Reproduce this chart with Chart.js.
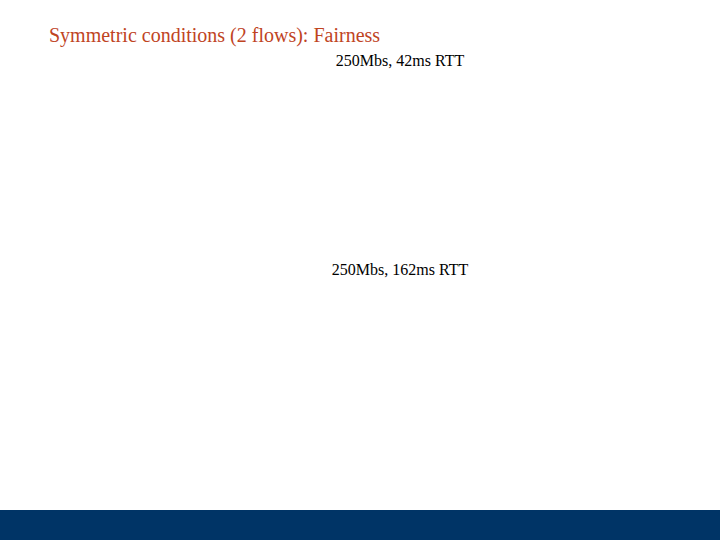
<!DOCTYPE html>
<html>
<head>
<meta charset="utf-8">
<script src="https://cdn.jsdelivr.net/npm/chart.js@4/dist/chart.umd.min.js"></script>
<style>
  html, body { margin: 0; padding: 0; width: 720px; height: 540px; overflow: hidden; background: #ffffff; }
  body { position: relative; font-family: "Liberation Serif", "DejaVu Serif", serif; }
  #title { position: absolute; left: 49px; top: 23px; font-size: 20px; line-height: 24px; color: #c0441f; white-space: nowrap; }
  .lbl { position: absolute; width: 300px; text-align: center; font-size: 16px; line-height: 18px; color: #000; white-space: nowrap; }
  #l1 { left: 250px; top: 52px; }
  #l2 { left: 250px; top: 261px; }
  .panel { position: absolute; left: 60px; width: 600px; }
  #p1 { top: 74px; height: 183px; }
  #p2 { top: 282px; height: 218px; }
  #footer { position: absolute; left: 0; top: 510px; width: 720px; height: 30px; background: #003466; }
</style>
</head>
<body>
<div id="title">Symmetric conditions (2 flows): Fairness</div>
<div class="lbl" id="l1"></div>
<div class="lbl" id="l2"></div>
<div class="panel" id="p1"><canvas id="c1"></canvas></div>
<div class="panel" id="p2"><canvas id="c2"></canvas></div>
<div id="footer"></div>
<script>
// The reference panels show only their captions; the plot images are blank.
const panelLabels = ["250Mbs, 42ms RTT", "250Mbs, 162ms RTT"];
const categories = [];
const flow1 = [];
const flow2 = [];

document.getElementById('l1').textContent = panelLabels[0];
document.getElementById('l2').textContent = panelLabels[1];

function makeChart(id) {
  return new Chart(document.getElementById(id), {
    type: 'line',
    data: {
      labels: categories,
      datasets: [
        { label: 'Flow 1', data: flow1, borderColor: 'rgba(0,0,0,0)' },
        { label: 'Flow 2', data: flow2, borderColor: 'rgba(0,0,0,0)' }
      ]
    },
    options: {
      responsive: true,
      maintainAspectRatio: false,
      animation: false,
      plugins: { legend: { display: false }, tooltip: { enabled: false } },
      scales: { x: { display: false }, y: { display: false } }
    }
  });
}
makeChart('c1');
makeChart('c2');
</script>
</body>
</html>
